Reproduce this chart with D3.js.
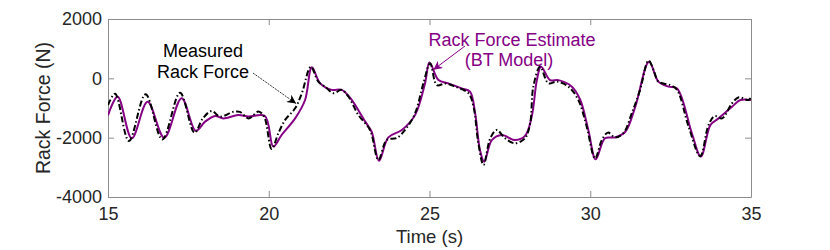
<!DOCTYPE html>
<html>
<head>
<meta charset="utf-8">
<script src="https://cdn.jsdelivr.net/npm/d3@7"></script>
<style>
  body { margin: 0; background: #fff; }
  text { font-family: "Liberation Sans", Arial, sans-serif; }
</style>
</head>
<body>
<script>
var width = 830,
    height = 250;

// measured rack force (black dash-dot)
var measuredT = [15.0, 15.22, 15.65, 16.17, 16.69, 17.24, 17.69, 17.95, 18.23, 18.48, 18.9, 19.1, 19.37, 19.68, 19.86,
  20.09, 20.3, 20.51, 20.82, 21.03, 21.31, 21.54, 21.75, 22.01, 22.27, 22.48, 22.79, 23.15, 23.41, 23.67, 23.98,
  24.24, 24.55, 24.81, 25.02, 25.23, 25.49, 25.8, 26.21, 26.37, 26.52, 26.68, 26.89, 27.09, 27.35, 27.66, 27.97,
  28.13, 28.23, 28.44, 28.7, 28.96, 29.32, 29.63, 29.89, 30.15, 30.36, 30.55, 30.77, 31.03, 31.29, 31.55, 31.81,
  31.97, 32.12, 32.49, 32.7, 33.06, 33.42, 33.68, 33.87, 34.1, 34.41, 34.62, 34.93, 35.0];
var measuredF = [-900, -520, -2110, -540, -2060, -490, -1830, -1350, -1100, -1290, -1130, -1130, -1350, -1120, -1300,
  -2380, -1850, -1400, -1010, -500, 390, -110, -280, -500, -390, -620, -1240, -1740, -2750, -2080, -2010,
  -1740, -1180, -170, 500, -230, -170, -280, -500, -960, -2190, -2920, -2020, -1740, -2020, -2190, -2020,
  -1520, -280, 390, -170, -110, -280, -730, -1630, -2700, -2080, -1830, -1990, -1850, -1180, -390, 600,
  280, -110, -230, -390, -1630, -2620, -1570, -1270, -1350, -840, -640, -730, -620];

// rack force estimate, BT model (purple)
var estimateT = [15.0, 15.3, 15.74, 16.23, 16.75, 17.29, 17.73, 18.02, 18.33, 18.59, 19.05, 19.37, 19.88,
  20.14, 20.4, 20.82, 21.13, 21.34, 21.6, 21.96, 22.27, 22.54, 23.0, 23.2, 23.43, 23.72, 24.14, 24.55, 24.86,
  25.0, 25.28, 25.59, 26.0, 26.26, 26.42, 26.57, 26.7, 26.94, 27.25, 27.66, 27.97, 28.18, 28.34, 28.47, 28.75,
  29.01, 29.43, 29.69, 29.94, 30.17, 30.46, 30.77, 31.09, 31.4, 31.83, 32.12, 32.43, 32.7, 33.16, 33.44, 33.74,
  33.99, 34.41, 34.67, 35.0];
var estimateF = [-1250, -620, -2020, -790, -2000, -670, -1770, -1460, -1270, -1350, -1240, -1290, -1270,
  -2300, -1910, -1350, -730, 370, -170, -390, -390, -670, -1460, -1800, -2780, -1990, -1740, -1240, -170,
  530, -60, -170, -340, -450, -1180, -2420, -2810, -2080, -1910, -2080, -1940, -1290, -60, 390, -60,
  -60, -280, -730, -1740, -2730, -2020, -1990, -1800, -960, 560, -110, -280, -340, -1850, -2640, -1570,
  -1350, -960, -730, -730];

var xTicks = [15, 20, 25, 30, 35];
var yTicks = [-4000, -2000, 0, 2000];

var plot = {left: 108, right: 751, top: 19, bottom: 197};
var textColor = '#262626',
    axisColor = '#8c8c8c',
    purple = '#850085';

var svg = d3.select('body')
  .append('svg')
  .attr('width', width)
  .attr('height', height);

var x = d3.scaleLinear().domain([15, 35]).range([plot.left, plot.right]);
var y = d3.scaleLinear().domain([-4000, 2000]).range([plot.bottom, plot.top]);

var defs = svg.append('defs');
defs.append('clipPath').attr('id', 'clip')
  .append('rect')
  .attr('x', plot.left).attr('y', plot.top)
  .attr('width', plot.right - plot.left).attr('height', plot.bottom - plot.top);

function marker(id, color) {
  defs.append('marker')
    .attr('id', id)
    .attr('viewBox', '0 0 10 10')
    .attr('refX', 10).attr('refY', 5)
    .attr('markerWidth', 13).attr('markerHeight', 9)
    .attr('markerUnits', 'userSpaceOnUse')
    .attr('orient', 'auto')
    .append('path')
    .attr('d', 'M0,0 L10,5 L0,10 L3,5 Z')
    .attr('fill', color);
}
marker('arrowBlack', '#000');
marker('arrowPurple', purple);

// axes (box with mirrored ticks)
var tickLen = 6;
var fmt = function(d) { return String(d); };
var xAxisB = d3.axisBottom(x).tickValues(xTicks).tickFormat(fmt).tickSizeInner(-tickLen).tickSizeOuter(0).tickPadding(10);
var xAxisT = d3.axisTop(x).tickValues(xTicks).tickSizeInner(-tickLen).tickSizeOuter(0).tickFormat('');
var yAxisL = d3.axisLeft(y).tickValues(yTicks).tickFormat(fmt).tickSizeInner(-tickLen).tickSizeOuter(0).tickPadding(6);
var yAxisR = d3.axisRight(y).tickValues(yTicks).tickSizeInner(-tickLen).tickSizeOuter(0).tickFormat('');

function style(g) {
  g.selectAll('path').attr('stroke', axisColor);
  g.selectAll('line').attr('stroke', axisColor);
  g.selectAll('text').attr('fill', textColor).style('font-size', '18px');
}

svg.append('g').attr('transform', 'translate(0,' + plot.bottom + ')').call(xAxisB).call(style);
svg.append('g').attr('transform', 'translate(0,' + plot.top + ')').call(xAxisT).call(style);
svg.append('g').attr('transform', 'translate(' + plot.left + ',0)').call(yAxisL).call(style);
svg.append('g').attr('transform', 'translate(' + plot.right + ',0)').call(yAxisR).call(style);

// lines
var line = d3.line()
  .x(function(d) { return x(d[0]); })
  .y(function(d) { return y(d[1]); })
  .curve(d3.curveCatmullRom.alpha(0.5));

var estimate = d3.zip(estimateT, estimateF);
var measured = d3.zip(measuredT, measuredF);

var lines = svg.append('g').attr('clip-path', 'url(#clip)');
lines.append('path')
  .datum(estimate)
  .attr('d', line)
  .attr('fill', 'none')
  .attr('stroke', purple)
  .attr('stroke-width', 2);
lines.append('path')
  .datum(measured)
  .attr('d', line)
  .attr('fill', 'none')
  .attr('stroke', '#000')
  .attr('stroke-width', 2)
  .attr('stroke-dasharray', '6,2.5,1.5,2.5');

// axis labels
svg.append('text')
  .attr('x', (plot.left + plot.right) / 2)
  .attr('y', 243)
  .attr('text-anchor', 'middle')
  .attr('fill', textColor)
  .style('font-size', '18.5px')
  .text('Time (s)');

svg.append('text')
  .attr('transform', 'translate(50,' + (plot.top + plot.bottom) / 2 + ') rotate(-90)')
  .attr('text-anchor', 'middle')
  .attr('fill', textColor)
  .style('font-size', '19.5px')
  .text('Rack Force (N)');

// annotations
var ann1 = svg.append('text')
  .attr('text-anchor', 'middle')
  .attr('fill', '#000')
  .style('font-size', '18px');
ann1.append('tspan').attr('x', 203).attr('y', 57).text('Measured');
ann1.append('tspan').attr('x', 203).attr('y', 78).text('Rack Force');

svg.append('line')
  .attr('x1', 253).attr('y1', 73)
  .attr('x2', x(20.85)).attr('y2', y(-850))
  .attr('stroke', '#000')
  .attr('stroke-width', 0.8)
  .attr('stroke-dasharray', '2,1')
  .attr('marker-end', 'url(#arrowBlack)');

var ann2 = svg.append('text')
  .attr('text-anchor', 'middle')
  .attr('fill', purple)
  .style('font-size', '18px');
ann2.append('tspan').attr('x', 512).attr('y', 46).text('Rack Force Estimate');
ann2.append('tspan').attr('x', 509).attr('y', 66).text('(BT Model)');

svg.append('line')
  .attr('x1', 465).attr('y1', 46)
  .attr('x2', x(25.12)).attr('y2', y(290))
  .attr('stroke', purple)
  .attr('stroke-width', 1)
  .attr('marker-end', 'url(#arrowPurple)');
</script>
</body>
</html>
